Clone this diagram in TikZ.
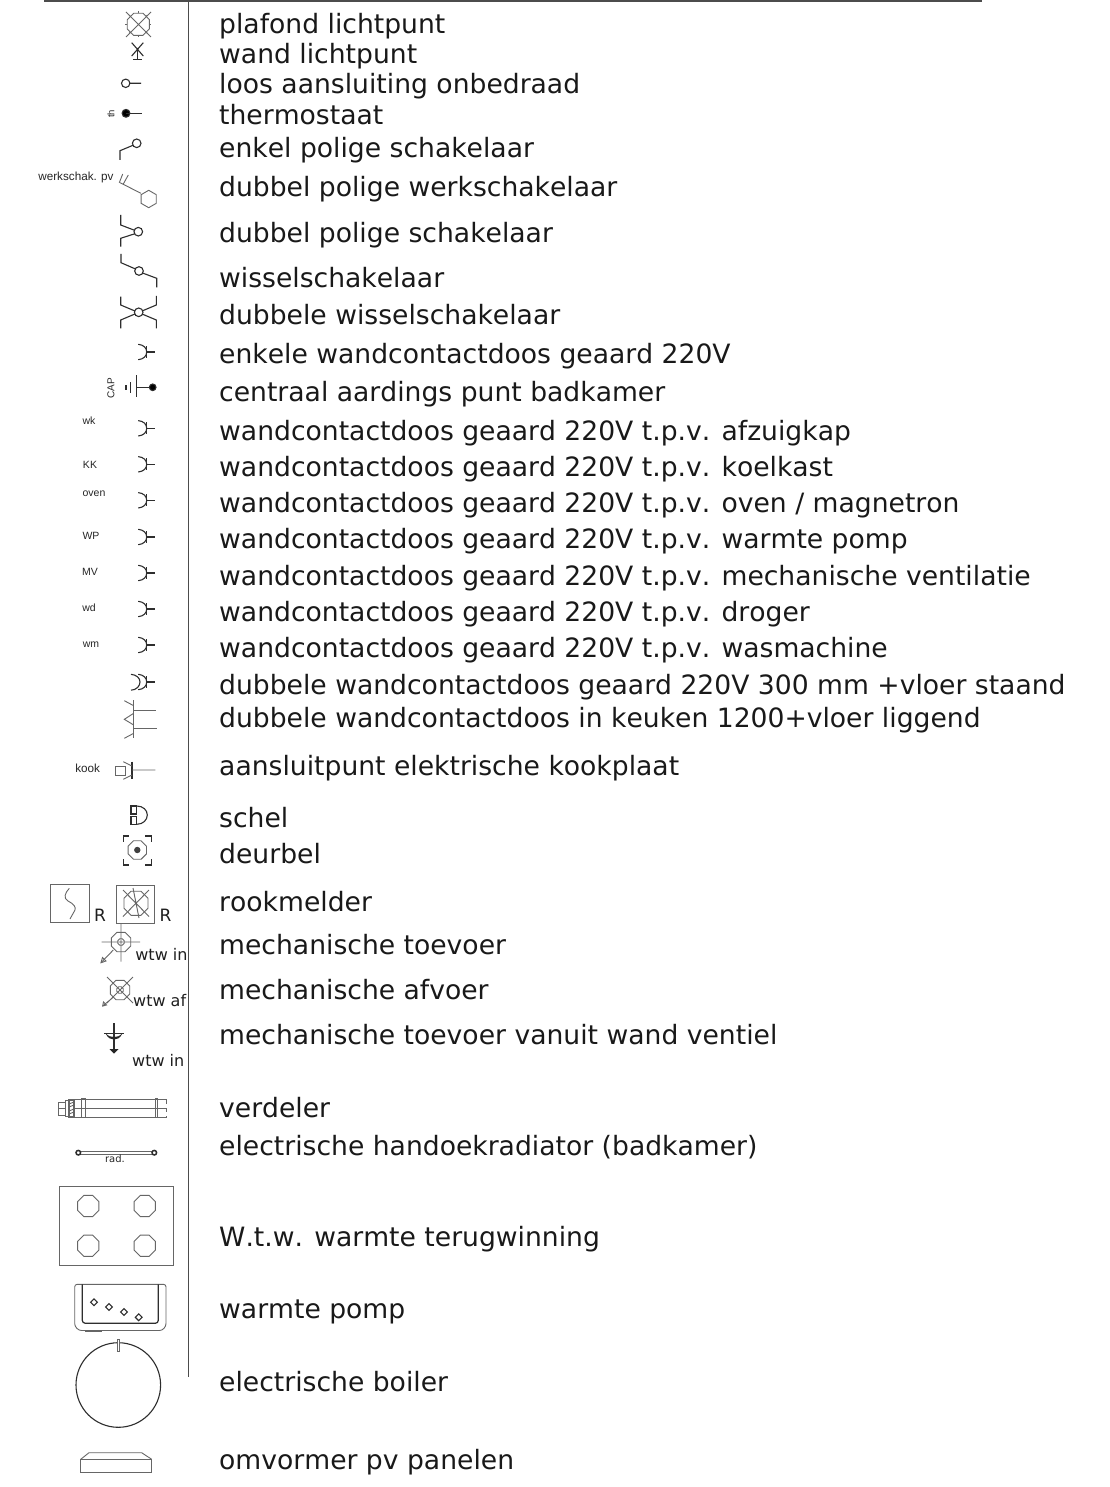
\documentclass[tikz,border=0pt]{standalone}
\usepackage{fontspec}
\setmainfont{DejaVu Sans}[Kerning=Off]
\newfontfamily\smallfont{Liberation Sans}
\tikzset{
  x=1pt,y=-1pt,
  sym/.style={draw=black!82,line width=1.1pt},
  thinsym/.style={draw=black!60,line width=0.9pt},
  rule/.style={draw=black!70,line width=1.1pt},
  lab/.style={anchor=base west,inner sep=0pt,text=black!90,font=\fontsize{26.6}{26.6}\selectfont},
  tag/.style={anchor=center,inner sep=0pt,text=black!85,font=\smallfont\fontsize{10.5}{10.5}\selectfont},
  tagwide/.style={anchor=center,inner sep=0pt,text=black!85,font=\smallfont\fontsize{11.7}{11.7}\selectfont},
  mid/.style={anchor=base west,inner sep=0pt,text=black!88,font=\fontsize{16}{16}\selectfont},
  big/.style={anchor=base west,inner sep=0pt,text=black!88,font=\fontsize{17}{17}\selectfont},
}
\newcommand\polyg[5][sym]{\draw[#1] plot[samples at={0,1,...,#5},variable=\t] ({#2+#4*cos(\t*360/#5+180/#5)},{#3+#4*sin(\t*360/#5+180/#5)}) -- cycle;}
\newcommand\sock[2]{\begin{scope}[shift={(#1,#2)}]
  \draw[sym] (-8.5,-7.7) .. controls (-3,-7.2) and (0,-4) .. (0,0) .. controls (0,4) and (-3,7.2) .. (-8.5,7.7);
  \draw[sym] (0,-6) -- (0,6);
  \draw[sym] (0,0) -- (8,0);
\end{scope}}
\begin{document}
\begin{tikzpicture}
\useasboundingbox (0,0) rectangle (1109,1487);
\path[fill=white] (0,0) rectangle (1109,1487);
\coordinate (ruleL) at (44,1);\coordinate (ruleR) at (982,1);
\coordinate (vtop) at (188.5,0);\coordinate (vbot) at (188.5,1377);
\draw[rule] (ruleL) -- (ruleR);
\draw[rule] (vtop) -- (vbot);
% labels
\node[lab] (t1) at (219,34) {plafond lichtpunt};
\node[lab] (t2) at (219,64) {wand lichtpunt};
\node[lab] (t3) at (219,94) {loos aansluiting onbedraad};
\node[lab] (t4) at (219,125) {thermostaat};
\node[lab] (t5) at (219,158) {enkel polige schakelaar};
\node[lab] (t6) at (219,197) {dubbel polige werkschakelaar};
\node[lab] (t7) at (219,243) {dubbel polige schakelaar};
\node[lab] (t8) at (219,288) {wisselschakelaar};
\node[lab] (t9) at (219,324) {dubbele wisselschakelaar};
\node[lab] (t10) at (219,363) {enkele wandcontactdoos geaard 220V};
\node[lab] (t11) at (219,401) {centraal aardings punt badkamer};
\node[lab] (t12) at (219,440) {wandcontactdoos geaard 220V t.p.v. afzuigkap};
\node[lab] (t13) at (219,476) {wandcontactdoos geaard 220V t.p.v. koelkast};
\node[lab] (t14) at (219,512) {wandcontactdoos geaard 220V t.p.v. oven / magnetron};
\node[lab] (t15) at (219,548) {wandcontactdoos geaard 220V t.p.v. warmte pomp};
\node[lab] (t16) at (219,585) {wandcontactdoos geaard 220V t.p.v. mechanische ventilatie};
\node[lab] (t17) at (219,621) {wandcontactdoos geaard 220V t.p.v. droger};
\node[lab] (t18) at (219,657) {wandcontactdoos geaard 220V t.p.v. wasmachine};
\node[lab] (t19) at (219,694) {dubbele wandcontactdoos geaard 220V 300 mm +vloer staand};
\node[lab] (t20) at (219,727) {dubbele wandcontactdoos in keuken 1200+vloer liggend};
\node[lab] (t21) at (219,775) {aansluitpunt elektrische kookplaat};
\node[lab] (t22) at (219,827) {schel};
\node[lab] (t23) at (219,863) {deurbel};
\node[lab] (t24) at (219,911) {rookmelder};
\node[lab] (t25) at (219,954) {mechanische toevoer};
\node[lab] (t26) at (219,999) {mechanische afvoer};
\node[lab] (t27) at (219,1044) {mechanische toevoer vanuit wand ventiel};
\node[lab] (t28) at (219,1117) {verdeler};
\node[lab] (t29) at (219,1155) {electrische handoekradiator (badkamer)};
\node[lab] (t30) at (219,1246) {W.t.w. warmte terugwinning};
\node[lab] (t31) at (219,1318) {warmte pomp};
\node[lab] (t32) at (219,1391) {electrische boiler};
\node[lab] (t33) at (219,1469) {omvormer pv panelen};
% plafond lichtpunt
\polyg[thinsym]{138.3}{24.3}{12}{8}
\draw[thinsym] (126,12) -- (151,37) (151,12) -- (126,37);
\foreach \a in {0,45,...,315}{\draw[thinsym] ({138.3+11*cos(\a)},{24.3+11*sin(\a)}) -- ({138.3+13*cos(\a)},{24.3+13*sin(\a)});}
% wand lichtpunt
\draw[sym] (131.7,42.7) -- (143.3,56) (143.3,42.7) -- (131.7,56);
\draw[sym] (137.3,47.7) -- (137.3,59.3) (133,59.3) -- (141.7,59.3);
% loos
\draw[sym] (125.7,83.3) circle (4.2) (129.9,83.3) -- (141,83.3);
% thermostaat
\draw[sym,fill=black] (126,113.3) circle (3.9);
\draw[sym] (126,113.3) -- (141.5,113.3);
\node[tag,rotate=90,font=\smallfont\fontsize{9.5}{9.5}\selectfont] (th) at (111,113.7) {th};
% enkel polig
\draw[sym] (120,160) -- (120,150.7) -- (133,145.3);
\draw[sym] (136.7,143.3) circle (4.3);
% werkschakelaar
\node[tagwide] (ws) at (76,177.7) {werkschak. pv};
\draw[thinsym] (119.3,182.7) -- (122.7,174) (123.3,184) -- (128.3,175);
\draw[thinsym] (120,182.7) -- (141,193.3);
\polyg[thinsym]{148.7}{199}{8.7}{6}
% dubbel polig
\draw[sym] (120.7,215) -- (120.7,225) -- (134.6,230.3);
\draw[sym] (120.7,246.7) -- (120.7,238.3) -- (135,233.7);
\draw[sym] (138.3,231.7) circle (4.3);
% wissel
\draw[sym] (121,254) -- (121,262.7) -- (135.5,269);
\draw[sym] (139,271) circle (4.3);
\draw[sym] (142.5,273) -- (156.7,278.3) -- (156.7,287.3);
% dubbele wissel
\draw[sym] (120.7,296.7) -- (120.7,305) -- (156.3,320) -- (156.3,328.3);
\draw[sym] (120.7,328.3) -- (120.7,320) -- (156.3,305) -- (156.3,296);
\draw[sym,fill=white] (138.7,312.3) circle (4.3);
% sockets
\sock{146.7}{352}
\node[tag,font=\smallfont\fontsize{10}{10}\selectfont,rotate=90] (cap) at (111,388.3) {CAP};
\draw[sym] (136.7,375) -- (136.7,397.3) (136.7,387.3) -- (152.7,387.3);
\draw[sym,fill=black] (152.7,387.3) circle (3.3);
\draw[sym] (130.5,382) -- (130.5,392.5) (126,385) -- (126,389.5);
\sock{146.7}{428.3}\node[tag] (wk) at (89,421) {wk};
\sock{146.7}{464.3}\node[tag] (kk) at (90,464.5) {KK};
\sock{146.7}{500.3}\node[tag] (ov) at (94,494) {oven};
\sock{146.7}{537}\node[tag] (wp) at (91,535.5) {WP};
\sock{146.7}{573}\node[tag] (mv) at (90,572) {MV};
\sock{146.7}{609}\node[tag] (wd) at (89,608) {wd};
\sock{146.7}{645}\node[tag] (wm) at (91,645) {wm};
% dubbele wcd
\sock{146.7}{682}
\draw[sym] (131,674.3) .. controls (136.5,674.8) and (140,678) .. (140,682) .. controls (140,686) and (136.5,690) .. (131,690.2);
% keuken
\draw[thinsym] (133.7,700) -- (133.7,738.3) (133.7,710) -- (156,710) (133.7,728.3) -- (156.5,728.3);
\draw[thinsym] (124.3,700.7) -- (133.7,705.7) (124.3,738.3) -- (133.7,733.3) (133.7,713.3) -- (124.3,719.3) -- (133.7,725);
% kook
\node[tagwide] (kook) at (87.7,768.7) {kook};
\draw[thinsym] (115.7,766) rectangle (125.3,775.7);
\draw[sym] (132,761.7) -- (132,779.3);
\draw[thinsym] (132,770) -- (155.3,770) (123.3,761.7) -- (132,766) (123.3,779.3) -- (132,775);
% schel
\draw[sym] (136.7,806) -- (131,806) -- (131,814) -- (136.7,814) (136.7,816.7) -- (131,816.7) -- (131,824.3) -- (136.7,824.3);
\draw[sym] (136.7,806) -- (136.7,814) (136.7,816.7) -- (136.7,824.3);
\draw[sym] (136.7,806) .. controls (143,806) and (147.3,810) .. (147.3,815) .. controls (147.3,820) and (143,824.3) .. (136.7,824.3);
% deurbel
\draw[sym,line width=1.2pt] (123.3,841.7) -- (123.3,836) -- (129,836) (145,836) -- (151.7,836) -- (151.7,841.7)
  (123.3,859) -- (123.3,865) -- (129,865) (145,865) -- (151.7,865) -- (151.7,859);
\polyg[thinsym]{137.3}{850}{10}{8}
\fill[black!75] (137.3,850) circle (3.2);
% rookmelder
\draw[thinsym] (50.7,884.3) rectangle (89,922.3);
\draw[thinsym] (69.3,888.3) .. controls (65,893) and (63,898) .. (68,901) .. controls (74,904) and (76,907) .. (75,910) -- (70,919);
\node[big] (r1) at (94,921.7) {R};
\draw[thinsym] (116.3,885) rectangle (154.3,923.3);
\polyg[thinsym]{136}{903.3}{13}{8}
\draw[thinsym] (123,890) -- (149,916.5) (149,890) -- (123,916.5) (133,888) -- (139,918);
\node[big] (r2) at (159.5,921) {R};
% mechanische toevoer
\polyg[thinsym]{121}{942}{10.5}{8}
\polyg[thinsym]{121}{942}{3.5}{8}
\draw[thinsym] (101.7,942) -- (140,942) (121,923.3) -- (121,961.7) (113.3,950) -- (101,962.7);
\draw[thinsym] (101,962.7) -- (106,961) -- (102.5,957.5) -- cycle;
\node[mid] (w1) at (135.2,960) {wtw in};
% afvoer
\polyg[thinsym]{120}{990}{10.5}{8}
\polyg[thinsym]{120}{990}{3.5}{8}
\draw[thinsym] (107,977) -- (133,1003) (133,977) -- (107,1003) (112.7,997.7) -- (102.7,1006);
\draw[thinsym] (102.7,1006) -- (103.5,1002) -- (106.5,1005) -- cycle;
\node[mid] (w2) at (133,1006.7) {wtw af};
% ventiel
\draw[sym] (114,1023.3) -- (114,1050) (104,1033.3) -- (124,1033.3);
\fill[black!85] (105.5,1033.3) .. controls (108,1038.5) and (111,1039.5) .. (114,1039.5) .. controls (117,1039.5) and (120,1038.5) .. (122.5,1033.3) .. controls (119,1036.5) and (117,1037) .. (114,1037) .. controls (111,1037) and (109,1036.5) .. (105.5,1033.3) -- cycle;
\fill[black!85] (109.5,1049) -- (118.5,1049) -- (114,1053.5) -- cycle;
\node[mid] (w3) at (132,1066.7) {wtw in};
% verdeler
\draw[thinsym] (73,1099.3) -- (167,1099.3) (73,1108.3) -- (167,1108.3) (73,1117.3) -- (167,1117.3);
\draw[thinsym] (58.5,1102) rectangle (65,1108.3) (58.5,1108.3) rectangle (65,1115) (65,1100.5) rectangle (69,1116.5);
\draw[thinsym,line width=1.1pt] (69,1100) rectangle (74,1117);
\draw[thinsym] (69,1104) -- (74,1102) (69,1107) -- (74,1105) (69,1111) -- (74,1109) (69,1114) -- (74,1112);
\draw[thinsym] (81.7,1098) -- (81.7,1117.3) (85,1098) -- (85,1117.3) (81.7,1098) -- (85,1098);
\draw[thinsym] (155,1098) -- (155,1117.3) (157.3,1098) -- (157.3,1117.3) (155,1098) -- (157.3,1098);
\draw[thinsym,dash pattern=on 4pt off 4pt] (166,1100) -- (166,1117);
% radiator
\draw[thinsym] (80,1151.3) -- (152,1151.3) (80,1154.5) -- (152,1154.5);
\draw[sym,line width=1.5pt,fill=white] (78.3,1152.7) circle (2.3) (154.3,1152.7) circle (2.3);
\node[tag,font=\fontsize{10}{10}\selectfont] (rad) at (115,1158.5) {rad.};
% wtw
\draw[thinsym] (59.3,1186.7) rectangle (173.3,1265.7);
\polyg[thinsym]{88.3}{1206}{11.5}{8}
\polyg[thinsym]{144.7}{1206}{11.5}{8}
\polyg[thinsym]{88.3}{1245.7}{11.5}{8}
\polyg[thinsym]{144.7}{1245.7}{11.5}{8}
% warmtepomp
\draw[thinsym,rounded corners=2.5pt] (74.7,1326) -- (74.7,1284.3) -- (166,1284.3) -- (166,1326) -- (162,1330.5) -- (79,1330.5) -- cycle;
\draw[sym,line width=1.2pt,rounded corners=3pt] (82.3,1284.3) -- (82.3,1323.3) -- (158.3,1323.3) -- (158.3,1284.3);
\draw[thinsym,line width=1.4pt] (84.5,1331) -- (101.5,1331);
\foreach \cx/\cy in {94/1302.3,109/1307,124/1312,138.7/1317.3}{\draw[sym] (\cx-3.4,\cy) -- (\cx,\cy-3.4) -- (\cx+3.4,\cy) -- (\cx,\cy+3.4) -- cycle;}
% boiler
\draw[sym] (118.3,1385) circle (42.3);
\draw[thinsym,fill=white] (117,1339) rectangle (119.8,1351);
% omvormer
\draw[thinsym] (80.7,1459.3) rectangle (151.7,1472);
\draw[thinsym] (80.7,1459.3) -- (89,1452.7) -- (141.7,1452.7) -- (151.7,1459.3);
\end{tikzpicture}
\end{document}
